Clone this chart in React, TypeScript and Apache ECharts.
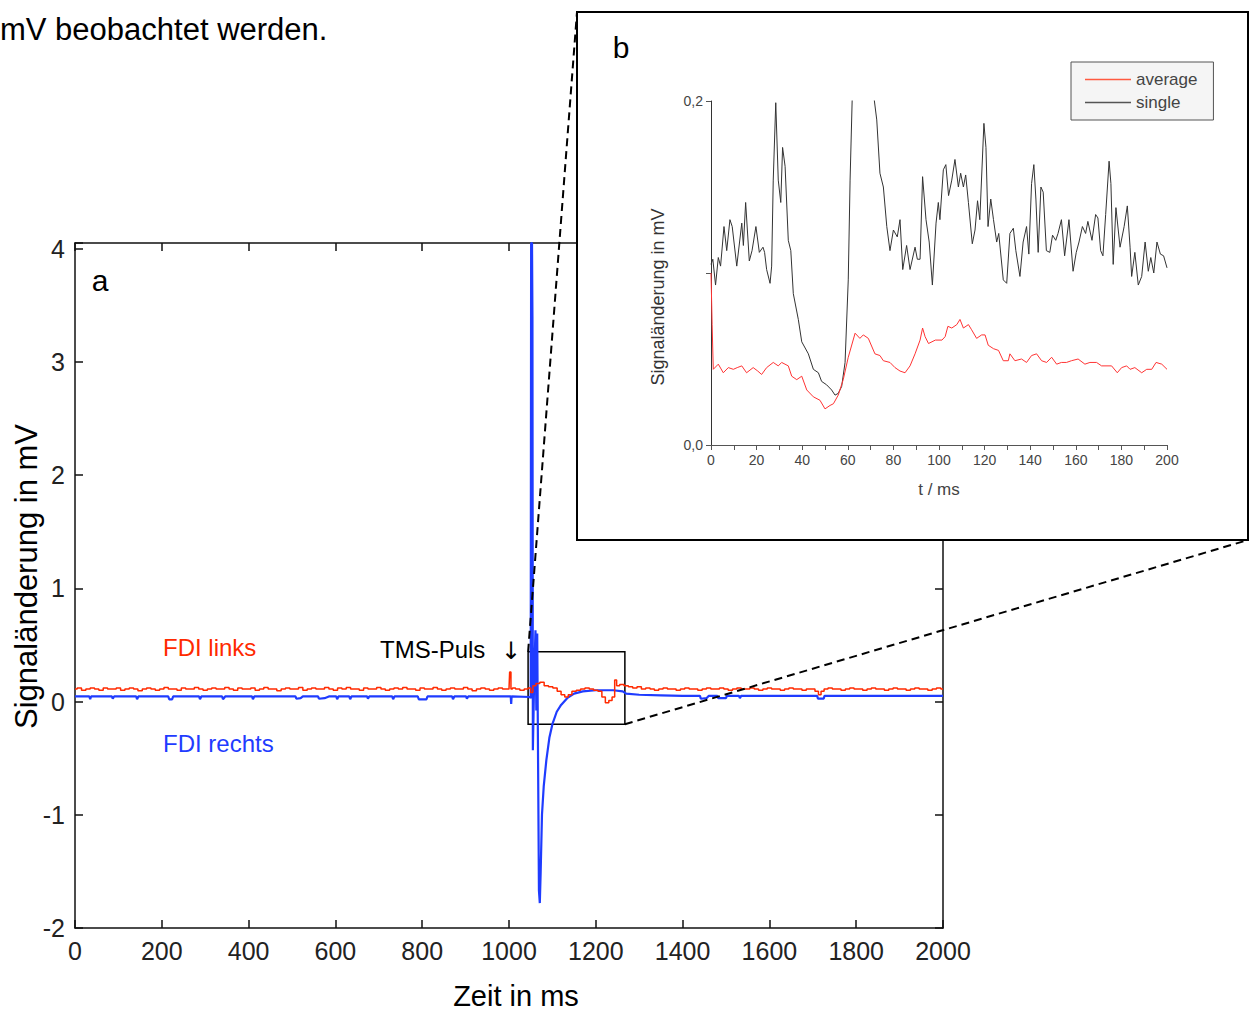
import React, { useEffect, useRef } from "react";
import * as echarts from "echarts";

// ---------- Panel a: main recording (time in ms, signal in mV) ----------
const fdiLinks: [number, number][] = [
  [0, 0.11], [10, 0.12], [20, 0.1], [30, 0.11], [40, 0.12], [50, 0.11], [60, 0.1], [70, 0.12], [80, 0.11], [90, 0.11],
  [100, 0.12], [110, 0.1], [120, 0.11], [130, 0.12], [140, 0.11], [150, 0.095], [160, 0.11], [170, 0.12], [180, 0.11], [190, 0.1],
  [200, 0.11], [210, 0.125], [220, 0.11], [230, 0.11], [240, 0.1], [250, 0.12], [260, 0.11], [270, 0.11], [280, 0.125], [290, 0.11],
  [300, 0.1], [310, 0.11], [320, 0.12], [330, 0.11], [340, 0.11], [350, 0.125], [360, 0.11], [370, 0.1], [380, 0.12], [390, 0.11],
  [400, 0.11], [410, 0.12], [420, 0.1], [430, 0.11], [440, 0.125], [450, 0.11], [460, 0.11], [470, 0.095], [480, 0.11], [490, 0.12],
  [500, 0.11], [510, 0.11], [520, 0.125], [530, 0.1], [540, 0.11], [550, 0.12], [560, 0.11], [570, 0.11], [580, 0.125], [590, 0.11],
  [600, 0.1], [610, 0.12], [620, 0.11], [630, 0.125], [640, 0.11], [650, 0.11], [660, 0.1], [670, 0.12], [680, 0.11], [690, 0.11],
  [700, 0.125], [710, 0.11], [720, 0.1], [730, 0.11], [740, 0.12], [750, 0.11], [760, 0.125], [770, 0.11], [780, 0.11], [790, 0.1],
  [800, 0.12], [810, 0.11], [820, 0.11], [830, 0.125], [840, 0.11], [850, 0.1], [860, 0.11], [870, 0.12], [880, 0.11], [890, 0.11],
  [900, 0.125], [910, 0.11], [920, 0.095], [930, 0.11], [940, 0.12], [950, 0.11], [960, 0.1], [970, 0.11], [980, 0.12], [990, 0.11],
  [1000, 0.11], [1003, 0.26], [1006, 0.11], [1010, 0.12], [1020, 0.11], [1030, 0.1], [1040, 0.11], [1048, 0.12], [1052, 0.08],
  [1058, 0.14], [1066, 0.16], [1076, 0.17], [1086, 0.14], [1096, 0.13], [1106, 0.12], [1116, 0.09], [1124, 0.06], [1133, 0.04],
  [1140, 0.06], [1150, 0.09], [1160, 0.1], [1170, 0.11], [1180, 0.12], [1190, 0.11], [1200, 0.1], [1210, 0.09], [1218, 0.04],
  [1226, -0.01], [1234, 0.01], [1241, 0.04], [1246, 0.19], [1250, 0.14], [1260, 0.15], [1270, 0.14], [1280, 0.13], [1290, 0.12],
  [1300, 0.13], [1310, 0.11], [1320, 0.12], [1330, 0.11], [1340, 0.1], [1350, 0.11], [1360, 0.12], [1370, 0.11], [1380, 0.11], [1390, 0.1],
  [1400, 0.11], [1410, 0.12], [1420, 0.11], [1430, 0.11], [1440, 0.1], [1450, 0.11], [1460, 0.12], [1470, 0.11], [1480, 0.11], [1490, 0.12],
  [1500, 0.11], [1510, 0.1], [1520, 0.11], [1530, 0.12], [1540, 0.11], [1550, 0.11], [1560, 0.12], [1570, 0.11], [1580, 0.1], [1590, 0.11],
  [1600, 0.12], [1610, 0.11], [1620, 0.11], [1630, 0.1], [1640, 0.11], [1650, 0.12], [1660, 0.11], [1670, 0.11], [1680, 0.1], [1690, 0.11],
  [1700, 0.11], [1710, 0.09], [1716, 0.06], [1722, 0.09], [1730, 0.11], [1740, 0.12], [1750, 0.11], [1760, 0.11], [1770, 0.1], [1780, 0.11],
  [1790, 0.12], [1800, 0.11], [1810, 0.11], [1820, 0.1], [1830, 0.11], [1840, 0.12], [1850, 0.11], [1860, 0.11], [1870, 0.1], [1880, 0.11],
  [1890, 0.12], [1900, 0.11], [1910, 0.11], [1920, 0.1], [1930, 0.11], [1940, 0.12], [1950, 0.11], [1960, 0.11], [1970, 0.1], [1980, 0.11],
  [1990, 0.12], [2000, 0.11],
];

const fdiRechts: [number, number][] = [
  [0, 0.045], [33, 0.045], [35, 0.02], [37, 0.045], [85, 0.045], [87, 0.025], [90, 0.045], [141, 0.045], [143, 0.02], [146, 0.045],
  [215, 0.045], [217, 0.02], [224, 0.02], [226, 0.045], [286, 0.045], [288, 0.02], [291, 0.045], [339, 0.045], [341, 0.02], [346, 0.045],
  [408, 0.045], [410, 0.02], [413, 0.045], [508, 0.045], [510, 0.025], [520, 0.03], [525, 0.045], [560, 0.045], [562, 0.025], [575, 0.03],
  [585, 0.045], [602, 0.045], [604, 0.02], [607, 0.045], [632, 0.045], [634, 0.02], [637, 0.045], [673, 0.045], [675, 0.025], [678, 0.045],
  [731, 0.045], [733, 0.02], [736, 0.045], [790, 0.045], [792, 0.02], [810, 0.02], [812, 0.045], [869, 0.045], [871, 0.02], [874, 0.045],
  [901, 0.045], [903, 0.025], [906, 0.045], [1004, 0.045], [1005, -0.02], [1006, 0.045], [1048, 0.04], [1050, 0.03],
  [1051, 4.05], [1053, 4.05], [1054, 3.4], [1055, -0.43], [1058, 0.2], [1061, 0.63], [1063, -0.08], [1065, 0.6], [1069, -1.67],
  [1071, -1.78], [1073, -1.5], [1076, -1.0], [1080, -0.75], [1086, -0.52], [1093, -0.32], [1100, -0.2], [1110, -0.09], [1120, -0.03],
  [1134, 0.03], [1150, 0.07], [1170, 0.09], [1200, 0.1], [1240, 0.1], [1262, 0.09], [1270, 0.07], [1300, 0.06], [1350, 0.055],
  [1400, 0.05], [1440, 0.05], [1442, 0.025], [1455, 0.03], [1460, 0.05], [1480, 0.05], [1482, 0.03], [1500, 0.03], [1502, 0.05],
  [1530, 0.05], [1532, 0.03], [1535, 0.05], [1710, 0.05], [1712, 0.025], [1725, 0.025], [1727, 0.05], [2000, 0.05],
];

// zoomed window drawn on panel a (ms, mV)
const zoomWindowX = [1044, 1267];
const zoomWindowY = [-0.2, 0.44];

// ---------- Panel b: zoom (t / ms, signal in mV) ----------
const insetAverage: [number, number][] = [
  [0, 0.1], [0.5, 0.07], [1, 0.044], [3.2, 0.047], [5.4, 0.042], [7.6, 0.045], [9.8, 0.044], [11.5, 0.045], [13.5, 0.046],
  [15.6, 0.042], [18.5, 0.045], [20.5, 0.043], [22.2, 0.041], [24.4, 0.045], [27.3, 0.048], [29.5, 0.046], [31, 0.048],
  [33.9, 0.046], [35.4, 0.04], [37.6, 0.038], [39.8, 0.04], [42, 0.032], [44.9, 0.028], [47.8, 0.026], [50, 0.021],
  [52.2, 0.023], [53.7, 0.024], [55.8, 0.029], [58, 0.038], [60.2, 0.051], [63.2, 0.065], [65.3, 0.062], [66.8, 0.064],
  [69, 0.062], [71.9, 0.053], [74.1, 0.052], [75.6, 0.049], [78.5, 0.048], [80.7, 0.045], [82.9, 0.043], [85.1, 0.042],
  [87.3, 0.046], [89.5, 0.053], [91.7, 0.061], [92.8, 0.068], [93.9, 0.063], [95.4, 0.059], [98.4, 0.061], [101.3, 0.061],
  [102.7, 0.063], [103.9, 0.069], [105.6, 0.068], [107.8, 0.07], [109.2, 0.073], [110.7, 0.068], [112.9, 0.07], [114.3, 0.067],
  [116.5, 0.062], [118.7, 0.064], [120.2, 0.064], [121.6, 0.058], [123.9, 0.056], [126.1, 0.055], [128.2, 0.049], [130.4, 0.049],
  [131.1, 0.053], [133.3, 0.049], [136.2, 0.05], [138.4, 0.048], [140.6, 0.052], [142.8, 0.053], [145, 0.049], [147.2, 0.048],
  [149.4, 0.051], [151.6, 0.047], [153.7, 0.048], [155.9, 0.048], [158.1, 0.049], [161, 0.05], [164, 0.047], [166.2, 0.048],
  [169.1, 0.048], [171.3, 0.046], [175.7, 0.046], [178.2, 0.042], [180.1, 0.045], [182.3, 0.046], [183.8, 0.044], [185.9, 0.045],
  [188.9, 0.042], [191.1, 0.044], [193.3, 0.044], [195.2, 0.048], [197.7, 0.047], [200, 0.044],
];

const insetSingle: [number, number][] = [
  [0, 0.105], [0.8, 0.108], [2, 0.093], [3.2, 0.109], [4.2, 0.104], [5.7, 0.127], [6.9, 0.113], [8.3, 0.131], [9.3, 0.127],
  [11.3, 0.104], [13.5, 0.129], [14.2, 0.116], [15.2, 0.141], [16.8, 0.107], [18, 0.113], [19.7, 0.127], [21.2, 0.112],
  [22.8, 0.115], [23.5, 0.112], [24.4, 0.102], [25.9, 0.094], [26.6, 0.104], [27.3, 0.154], [28.4, 0.199], [29.5, 0.154],
  [30.6, 0.141], [31.4, 0.173], [32.5, 0.162], [33.9, 0.119], [35, 0.113], [36.1, 0.088], [38.3, 0.073], [39.8, 0.06],
  [42.7, 0.053], [44.9, 0.044], [47.1, 0.042], [48.5, 0.037], [50.7, 0.035], [52.9, 0.032], [54.4, 0.029], [55.8, 0.03],
  [57.3, 0.034], [58.8, 0.048], [60.2, 0.096], [61, 0.154], [62, 0.205], [64, 0.26], [68, 0.27], [71.2, 0.205], [72.7, 0.189],
  [74.1, 0.158], [75.6, 0.15], [77.1, 0.127], [78.5, 0.113], [80, 0.125], [81.7, 0.121], [82.9, 0.131], [84.1, 0.102],
  [85.8, 0.116], [87.3, 0.102], [89.5, 0.115], [90.5, 0.108], [91.7, 0.108], [92.8, 0.156], [94.3, 0.131], [95.7, 0.118],
  [97.1, 0.093], [98.7, 0.129], [99.7, 0.141], [100.4, 0.131], [101.9, 0.16], [103, 0.163], [104.2, 0.145], [105.6, 0.154],
  [107, 0.166], [108.5, 0.15], [109.5, 0.158], [110.7, 0.15], [111.7, 0.157], [112.9, 0.141], [114.6, 0.117], [115.8, 0.125],
  [116.9, 0.142], [117.9, 0.131], [119.7, 0.187], [120.6, 0.173], [121.5, 0.127], [122.7, 0.143], [123.9, 0.131], [125.3, 0.118],
  [126.2, 0.123], [128.2, 0.096], [129.7, 0.094], [131.1, 0.123], [132.6, 0.126], [133.7, 0.113], [135.5, 0.098], [136.9, 0.118],
  [138.4, 0.127], [139.4, 0.111], [140.6, 0.152], [141.6, 0.163], [142.5, 0.143], [143.5, 0.112], [144.7, 0.15], [145.7, 0.147],
  [147.1, 0.113], [148.6, 0.112], [149.8, 0.122], [151.2, 0.119], [152.2, 0.123], [153.7, 0.131], [155.1, 0.11], [157, 0.131],
  [158.8, 0.101], [160.2, 0.112], [161.4, 0.118], [162.9, 0.127], [164.3, 0.123], [165.3, 0.13], [167.1, 0.119], [168.7, 0.134],
  [169.7, 0.132], [170.9, 0.113], [171.9, 0.11], [173.1, 0.134], [174.6, 0.165], [175.4, 0.152], [176.4, 0.105], [177.6, 0.138],
  [179.4, 0.115], [181.2, 0.127], [182.6, 0.139], [183.8, 0.115], [184.5, 0.098], [185.9, 0.112], [187.4, 0.093], [188.9, 0.098],
  [190.4, 0.118], [191.8, 0.101], [192.9, 0.109], [194.2, 0.1], [195.6, 0.118], [197.1, 0.111], [198.5, 0.11], [200, 0.103],
];

const FONT = "'Liberation Sans', Arial, Helvetica, sans-serif";
const RED = "#ff2a00";
const BLUE = "#1f3cff";

export default function App() {
  const ref = useRef<HTMLDivElement>(null);

  useEffect(() => {
    if (!ref.current) return;
    const chart = echarts.init(ref.current, undefined, { renderer: "svg" });

    const mainAxisLine = { onZero: false, lineStyle: { color: "#111", width: 1.5 } };
    const mainTick = { inside: true, length: 8, lineStyle: { color: "#111", width: 1.5 } };
    const plain = (v: number) => String(v);

    const option: any = {
      animation: false,
      backgroundColor: "#ffffff",
      textStyle: { fontFamily: FONT },
      grid: [
        { left: 75, top: 243, width: 868, height: 685, containLabel: false, outerBoundsMode: "none" },
        { left: 711, top: 101, width: 456, height: 344, containLabel: false, outerBoundsMode: "none", z: 11 },
      ],
      xAxis: [
        {
          gridIndex: 0, type: "value", min: 0, max: 2000, interval: 200, position: "bottom",
          axisLine: mainAxisLine, axisTick: mainTick, splitLine: { show: false },
          axisLabel: { fontSize: 25, color: "#222", margin: 10, fontFamily: FONT, formatter: plain },
          name: "Zeit in ms", nameLocation: "middle", nameGap: 53,
          nameTextStyle: { fontSize: 29, color: "#000", fontFamily: FONT, padding: [0, 0, 0, 14] },
        },
        {
          gridIndex: 0, type: "value", min: 0, max: 2000, interval: 200, position: "top",
          axisLine: mainAxisLine, axisTick: mainTick, splitLine: { show: false }, axisLabel: { show: false },
        },
        {
          gridIndex: 1, type: "value", min: 0, max: 200, interval: 20, position: "bottom", z: 11,
          axisLine: { onZero: false, lineStyle: { color: "#555", width: 1 } },
          axisTick: { length: 5, lineStyle: { color: "#555" } },
          minorTick: { show: true, splitNumber: 2, length: 5, lineStyle: { color: "#555" } },
          splitLine: { show: false }, minorSplitLine: { show: false },
          axisLabel: { fontSize: 14, color: "#444", margin: 8, fontFamily: FONT, formatter: plain },
          name: "t / ms", nameLocation: "middle", nameGap: 36,
          nameTextStyle: { fontSize: 17, color: "#444", fontFamily: FONT },
        },
      ],
      yAxis: [
        {
          gridIndex: 0, type: "value", min: -2, max: 4.05, interval: 1, position: "left",
          axisLine: mainAxisLine, axisTick: mainTick, splitLine: { show: false },
          axisLabel: {
            fontSize: 25, color: "#222", margin: 10, fontFamily: FONT,
            formatter: (v: number) => (Number.isInteger(v) ? String(v) : ""),
          },
          name: "Signaländerung in mV", nameLocation: "middle", nameGap: 33, nameMoveOverlap: false,
          nameTextStyle: { fontSize: 31, color: "#000", fontFamily: FONT, padding: [0, 0, 0, 18] },
        },
        {
          gridIndex: 0, type: "value", min: -2, max: 4.05, interval: 1, position: "right",
          axisLine: mainAxisLine, axisTick: mainTick, splitLine: { show: false }, axisLabel: { show: false },
        },
        {
          gridIndex: 1, type: "value", min: 0, max: 0.2, interval: 0.1, position: "left", z: 11,
          axisLine: { onZero: false, lineStyle: { color: "#333", width: 1 } },
          axisTick: { length: 5, lineStyle: { color: "#555" } },
          splitLine: { show: false },
          axisLabel: {
            fontSize: 14, color: "#444", margin: 8, fontFamily: FONT,
            formatter: (v: number) => (Math.abs(v) < 1e-9 ? "0,0" : Math.abs(v - 0.2) < 1e-9 ? "0,2" : ""),
          },
          name: "Signaländerung in mV", nameLocation: "middle", nameGap: 44,
          nameTextStyle: { fontSize: 18, color: "#333", fontFamily: FONT, padding: [0, 48, 0, 0] },
        },
      ],
      legend: {
        data: ["average", "single"], orient: "vertical", left: 1071, top: 62, z: 13,
        icon: "rect", itemWidth: 46, itemHeight: 1.5, itemGap: 6,
        padding: [9, 16, 9, 14],
        backgroundColor: "#f5f5f5", borderColor: "#555", borderWidth: 1, borderRadius: 0,
        textStyle: { fontSize: 17, color: "#444", fontFamily: FONT, lineHeight: 17 },
        selectedMode: false,
      },
      graphic: [
        {
          type: "rect", z: 10, silent: true,
          shape: { x: 577, y: 12, width: 671, height: 528 },
          style: { fill: "#ffffff", stroke: "#000", lineWidth: 2 },
        },
        { type: "text", z: 14, x: 0, y: 29, style: { text: "mV beobachtet werden.", fontSize: 31, fontFamily: FONT, fill: "#000", align: "left", verticalAlign: "middle" } },
        { type: "text", z: 14, x: 100, y: 280, style: { text: "a", fontSize: 30, fontFamily: FONT, fill: "#000", align: "center", verticalAlign: "middle" } },
        { type: "text", z: 14, x: 621, y: 47, style: { text: "b", fontSize: 30, fontFamily: FONT, fill: "#000", align: "center", verticalAlign: "middle" } },
        { type: "text", z: 5, x: 163, y: 647, style: { text: "FDI links", fontSize: 24, fontFamily: FONT, fill: RED, align: "left", verticalAlign: "middle" } },
        { type: "text", z: 5, x: 163, y: 743, style: { text: "FDI rechts", fontSize: 24, fontFamily: FONT, fill: BLUE, align: "left", verticalAlign: "middle" } },
        { type: "text", z: 5, x: 380, y: 649, style: { text: "TMS-Puls", fontSize: 24, fontFamily: FONT, fill: "#000", align: "left", verticalAlign: "middle" } },
        { type: "text", z: 5, x: 511, y: 651, style: { text: "↓", fontSize: 24, fontFamily: "'DejaVu Sans', sans-serif", fill: "#000", align: "center", verticalAlign: "middle" } },
      ],
      series: [
        {
          name: "FDI rechts", type: "line", xAxisIndex: 0, yAxisIndex: 0, data: fdiRechts,
          symbol: "none", showSymbol: false, clip: false, z: 2,
          lineStyle: { color: BLUE, width: 2.2 }, itemStyle: { color: BLUE },
          markArea: {
            silent: true,
            itemStyle: { color: "rgba(0,0,0,0)", borderColor: "#000", borderWidth: 1.5 },
            data: [[{ coord: [zoomWindowX[0], zoomWindowY[1]] }, { coord: [zoomWindowX[1], zoomWindowY[0]] }]],
          },
          markLine: {
            silent: true, symbol: ["none", "none"], label: { show: false },
            lineStyle: { color: "#000", width: 2, type: [8, 5] },
            data: [
              [{ coord: [zoomWindowX[0], zoomWindowY[1]] }, { x: 577, y: 12 }],
              [{ coord: [zoomWindowX[1], zoomWindowY[0]] }, { x: 1248, y: 540 }],
            ],
          },
        },
        {
          name: "FDI links", type: "line", xAxisIndex: 0, yAxisIndex: 0, data: fdiLinks,
          symbol: "none", showSymbol: false, step: "middle", z: 3,
          lineStyle: { color: RED, width: 1.5 }, itemStyle: { color: RED },
        },
        {
          name: "single", type: "line", xAxisIndex: 2, yAxisIndex: 2, data: insetSingle,
          symbol: "none", showSymbol: false, clip: true, z: 12,
          lineStyle: { color: "#333", width: 1 }, itemStyle: { color: "#555" },
        },
        {
          name: "average", type: "line", xAxisIndex: 2, yAxisIndex: 2, data: insetAverage,
          symbol: "none", showSymbol: false, clip: true, z: 12,
          lineStyle: { color: "#ff3333", width: 1 }, itemStyle: { color: "#ff5a40" },
        },
      ],
    };

    chart.setOption(option);
    return () => chart.dispose();
  }, []);

  return (
    <div
      ref={ref}
      style={{ position: "absolute", left: 0, top: 0, width: 1256, height: 1012, background: "#fff" }}
    />
  );
}
